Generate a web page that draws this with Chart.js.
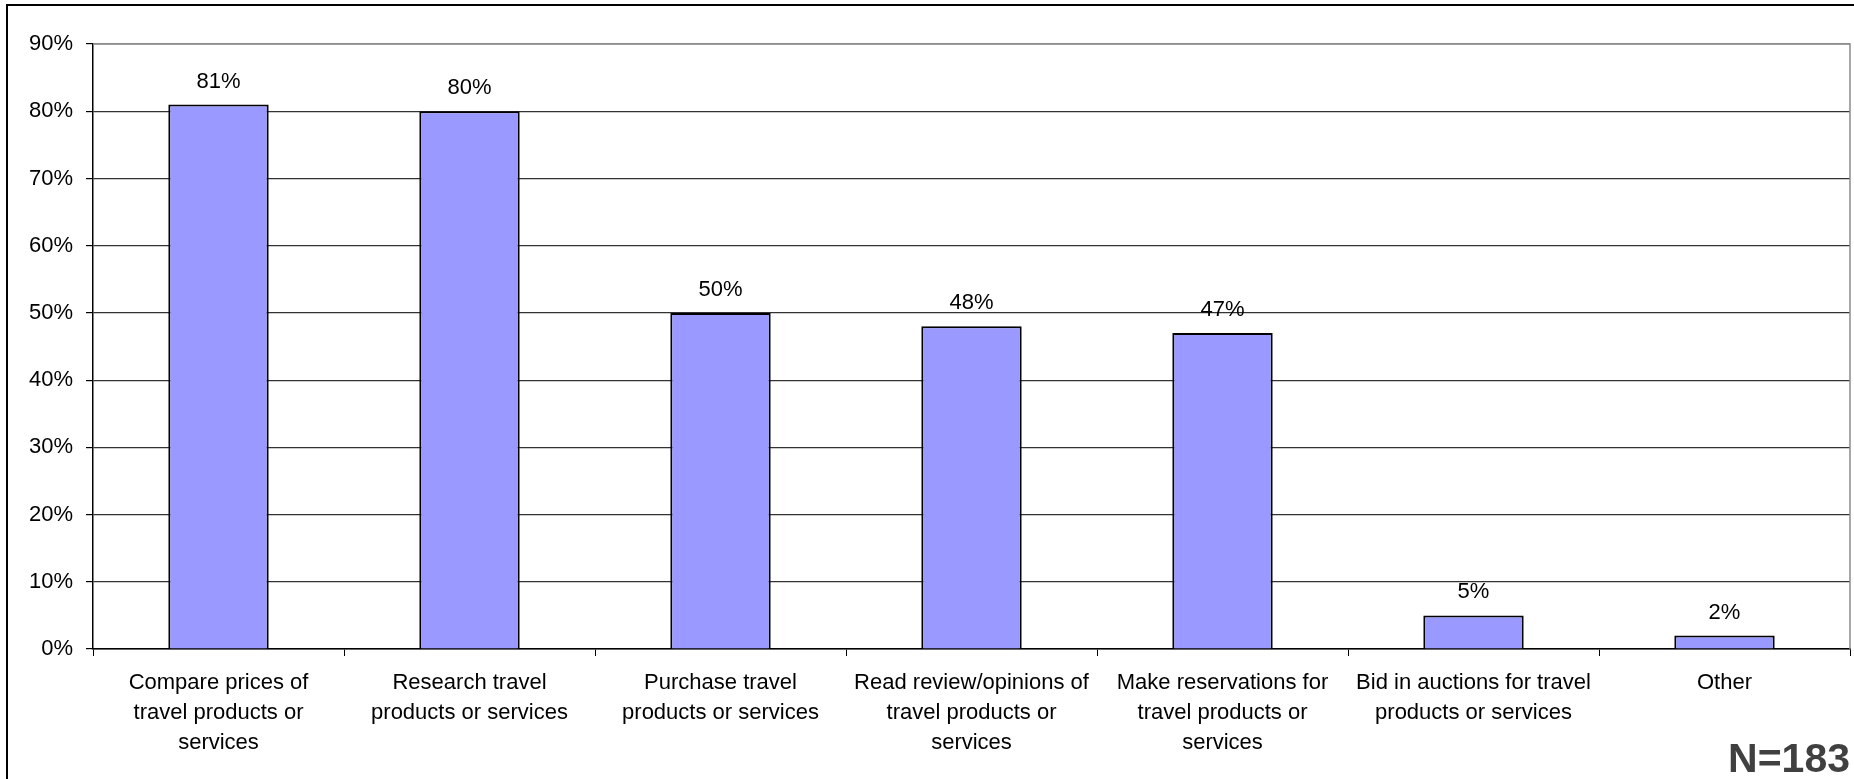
<!DOCTYPE html>
<html>
<head>
<meta charset="utf-8">
<script src="https://cdn.jsdelivr.net/npm/chart.js@4"></script>
<style>
  html, body { margin: 0; padding: 0; background: #fff; }
  .frame { position: relative; width: 1854px; height: 779px; overflow: hidden; }
  .frame::before {
    content: ""; position: absolute; left: 6px; top: 4px; right: -10px; bottom: -10px;
    border-left: 2px solid #000; border-top: 2px solid #000;
  }
  canvas { position: absolute; left: 0; top: 0; }
  .note {
    position: absolute; right: 4px; top: 735px;
    font: bold 41px "Liberation Sans", Arial, sans-serif; color: #404040;
  }
</style>
</head>
<body>
<div class="frame">
  <canvas id="usageChart" width="1854" height="779"></canvas>
  <div class="note">N=183</div>
</div>
<script>
const categories = [
    ['Compare prices of', 'travel products or', 'services'],
    ['Research travel', 'products or services'],
    ['Purchase travel', 'products or services'],
    ['Read review/opinions of', 'travel products or', 'services'],
    ['Make reservations for', 'travel products or', 'services'],
    ['Bid in auctions for travel', 'products or services'],
    ['Other']
];
const shares = [81, 80, 50, 48, 47, 5, 2];
const yTicks = [0, 10, 20, 30, 40, 50, 60, 70, 80, 90];

const FONT = '"Liberation Sans", Arial, sans-serif';

// percentage above each bar
const barLabels = {
    id: 'barLabels',
    afterDatasetsDraw(chart) {
        const ctx = chart.ctx;
        const meta = chart.getDatasetMeta(0);
        ctx.save();
        ctx.font = '22px ' + FONT;
        ctx.fillStyle = '#000';
        ctx.textAlign = 'center';
        ctx.textBaseline = 'alphabetic';
        meta.data.forEach((bar, i) => {
            ctx.fillText(shares[i] + '%', bar.x, bar.y - 17);
        });
        ctx.restore();
    }
};

// grey frame on the top and right of the plot area
const plotFrame = {
    id: 'plotFrame',
    afterDraw(chart) {
        const { ctx, chartArea: a } = chart;
        ctx.save();
        ctx.strokeStyle = '#8c8c8c';
        ctx.lineWidth = 1.5;
        ctx.beginPath();
        ctx.moveTo(a.left, a.top);
        ctx.lineTo(a.right, a.top);
        ctx.lineTo(a.right, a.bottom);
        ctx.stroke();
        ctx.restore();
    }
};

new Chart(document.getElementById('usageChart'), {
    type: 'bar',
    data: {
        labels: categories,
        datasets: [{
            data: shares,
            backgroundColor: '#9999FF',
            borderColor: '#000',
            borderWidth: 2,
            barPercentage: 0.4,
            categoryPercentage: 1
        }]
    },
    options: {
        responsive: false,
        animation: false,
        layout: { padding: { left: 0, top: 44, right: 4, bottom: 0 } },
        plugins: { legend: { display: false }, tooltip: { enabled: false } },
        scales: {
            x: {
                afterFit(scale) { scale.height = 130; },
                grid: { drawOnChartArea: false, tickLength: 7, color: '#000', lineWidth: 1 },
                border: { color: '#000', width: 1.5 },
                ticks: {
                    autoSkip: false, maxRotation: 0, padding: 12,
                    color: '#000',
                    font: { family: FONT, size: 22, lineHeight: 1.36 }
                }
            },
            y: {
                min: 0, max: 90,
                afterFit(scale) { scale.width = 93; },
                afterBuildTicks(scale) { scale.ticks = yTicks.map(v => ({ value: v })); },
                grid: {
                    tickLength: 7,
                    color: c => c.tick && c.tick.value === 90 ? '#8c8c8c' : '#333',
                    tickColor: '#000',
                    lineWidth: 1.2
                },
                border: { color: '#000', width: 1.5 },
                ticks: {
                    padding: 13, color: '#000',
                    font: { family: FONT, size: 22 },
                    callback: v => v + '%'
                }
            }
        }
    },
    plugins: [barLabels, plotFrame]
});
</script>
</body>
</html>
